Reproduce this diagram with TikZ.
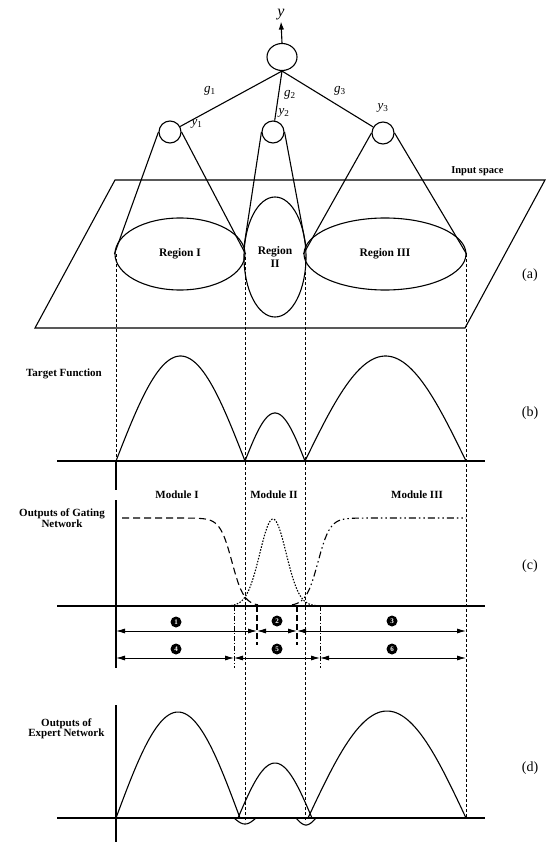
\documentclass[tikz,border=0pt]{standalone}
\usepackage{fontspec}
\setmainfont{Liberation Serif}
\usetikzlibrary{shapes.geometric,arrows.meta}
\newcommand{\ivar}[2]{\textit{#1}\textsubscript{#2}}

\begin{document}
\begin{tikzpicture}[x=1pt,y=-1pt]
\tikzset{nrn/.style={draw,ellipse,line width=1.1pt,inner sep=0pt},
 reg/.style={draw,ellipse,line width=1.1pt,inner sep=0pt,align=center,font=\fontsize{11.5}{12.5}\selectfont\bfseries},
 lbl/.style={font=\fontsize{11}{10.5}\selectfont\bfseries,align=center},
 tag/.style={font=\fontsize{14}{14}\selectfont},
 wt/.style={font=\fontsize{13}{13}\selectfont,inner sep=1pt},
 num/.style={circle,fill,inner sep=0pt,minimum size=11pt,text=white,font=\fontsize{7}{7}\selectfont\bfseries},
 guide/.style={densely dashed,line width=0.6pt},
 curve/.style={line width=1.1pt},
 dim/.style={{Latex[length=9pt,width=5pt]}-{Latex[length=9pt,width=5pt]},line width=0.8pt}}

\useasboundingbox (0,0) rectangle (548,842);

% (a) network and input space
\draw[curve] (35,328) -- (465,328) -- (545,180) -- (115,180) -- cycle;
\node[lbl,font=\fontsize{10.5}{10}\selectfont\bfseries,anchor=east] (ispace) at (507,171) {Input space};

\node[reg,minimum width=130,minimum height=72] (r1) at (180,254) {Region I};
\node[reg,minimum width=162,minimum height=72] (r3) at (385,254) {Region III};
\node[reg,minimum width=62,minimum height=120] (r2) at (275,257) {Region\\II};

\node[nrn,minimum width=30,minimum height=27] (out) at (282,57) {};
\node[nrn,minimum width=22,minimum height=22] (e1) at (170,132) {};
\node[nrn,minimum width=22,minimum height=22] (e2) at (273,132) {};
\node[nrn,minimum width=22,minimum height=22] (e3) at (383,133) {};

\node[wt,font=\fontsize{16}{16}\selectfont\itshape] (ytop) at (281,15) {y};
\draw[curve,-{Latex[length=8pt,width=5.5pt]}] (out.north) -- (ytop.south);
\draw[curve] (out.south) -- (e1);
\draw[curve] (out.south) -- (e2);
\draw[curve] (out.south) -- (e3);
\node[wt] (g1) at (210,91) {\ivar{g}{1}};
\node[wt] (g2) at (290,95) {\ivar{g}{2}};
\node[wt] (g3) at (340,91) {\ivar{g}{3}};
\node[wt] (y1) at (197,124) {\ivar{y}{1}};
\node[wt] (y2) at (284,113) {\ivar{y}{2}};
\node[wt] (y3) at (383,108) {\ivar{y}{3}};

\draw[curve] (e1.west) -- (r1.west);
\draw[curve] (e1.east) -- (r1.east);
\draw[curve] (e2.west) -- (r2.163);
\draw[curve] (e2.east) -- (r2.17);
\draw[curve] (e3.west) -- (r3.west);
\draw[curve] (e3.east) -- (r3.east);
\node[tag] (ta) at (530,275) {(a)};

% guides
\draw[guide] (116,254) -- (116,461);
\draw[guide] (245,257) -- (245,822);
\draw[guide] (305,257) -- (305,822);
\draw[guide] (466,254) -- (466,818);
\draw[curve] (116,461) -- (116,490);
\draw[curve] (116,500) -- (116,668);
\draw[curve] (116,705) -- (116,842);

% (b) target function
\node[lbl] (tf) at (64,374) {Target Function};
\draw[curve] (57,461) -- (485,461);
\draw[curve] plot[domain=116:245,samples=60] (\x,{461-105*sin((\x-116)/129*180)});
\draw[curve] plot[domain=245:305,samples=40] (\x,{461-48*sin((\x-245)/60*180)});
\draw[curve] plot[domain=305:466,samples=60] (\x,{461-105*sin((\x-305)/161*180)});
\node[tag] (tb) at (530,413) {(b)};

% (c) gating outputs
\node[lbl] (gn) at (62,518) {Outputs of Gating\\Network};
\node[lbl] (m1) at (177,495) {Module I};
\node[lbl] (m2) at (274,495) {Module II};
\node[lbl] (m3) at (417,495) {Module III};
\draw[curve] (57,606) -- (485,606);
\draw[curve,dash pattern=on 7pt off 4pt] plot[domain=122:258,samples=70] (\x,{606-88/(1+exp((\x-232)/6))});
\draw[curve,dash pattern=on 1.5pt off 1.5pt] plot[domain=228:318,samples=70] (\x,{606-87*exp(-((\x-273)/18.6)^2)});
\draw[curve,dash pattern=on 7pt off 3pt on 1.5pt off 3pt on 1.5pt off 3pt] plot[domain=292:466,samples=80] (\x,{606-88/(1+exp(-(\x-318)/6))});
\node[tag] (tc) at (530,566) {(c)};

\draw[line width=0.8pt,dash pattern=on 5pt off 2pt on 1pt off 2pt] (234,606) -- (234,668);
\draw[line width=0.8pt,dash pattern=on 5pt off 2pt on 1pt off 2pt] (320,606) -- (320,668);
\draw[line width=1.1pt,dash pattern=on 6pt off 3pt] (257,606) -- (257,645);
\draw[line width=1.1pt,dash pattern=on 6pt off 3pt] (297,606) -- (297,645);

\coordinate (a0) at (116,631);
\coordinate (a1) at (257,631);
\coordinate (a2) at (297,631);
\coordinate (a3) at (466,631);
\coordinate (b0) at (116,658);
\coordinate (b1) at (234,658);
\coordinate (b2) at (320,658);
\coordinate (b3) at (466,658);
\draw[dim] (a0) -- (a1);
\draw[dim] (a1) -- (a2);
\draw[dim] (a2) -- (a3);
\draw[dim] (b0) -- (b1);
\draw[dim] (b1) -- (b2);
\draw[dim] (b2) -- (b3);
\node[num] (n1) at (176,622) {1};
\node[num] (n2) at (277,621) {2};
\node[num] (n3) at (392,621) {3};
\node[num] (n4) at (176,649) {4};
\node[num] (n5) at (277,649) {5};
\node[num] (n6) at (392,649) {6};

% (d) expert outputs
\node[lbl,anchor=east] (en) at (108,729) {Outputs of\\Expert Network};
\draw[curve] (57,818) -- (485,818);
\draw[curve] plot[domain=116:240,samples=60] (\x,{818-106*sin((\x-116)/124*180)});
\draw[curve] plot[domain=234:256,samples=20] (\x,{818+6*sin((\x-234)/22*180)});
\draw[curve] plot[domain=238:312,samples=40] (\x,{818-55*sin((\x-238)/74*180)});
\draw[curve] plot[domain=296:316,samples=20] (\x,{818+7*sin((\x-296)/20*180)});
\draw[curve] plot[domain=308:466,samples=60] (\x,{818-107*sin((\x-308)/158*180)});
\node[tag] (td) at (530,768) {(d)};
\end{tikzpicture}
\end{document}
